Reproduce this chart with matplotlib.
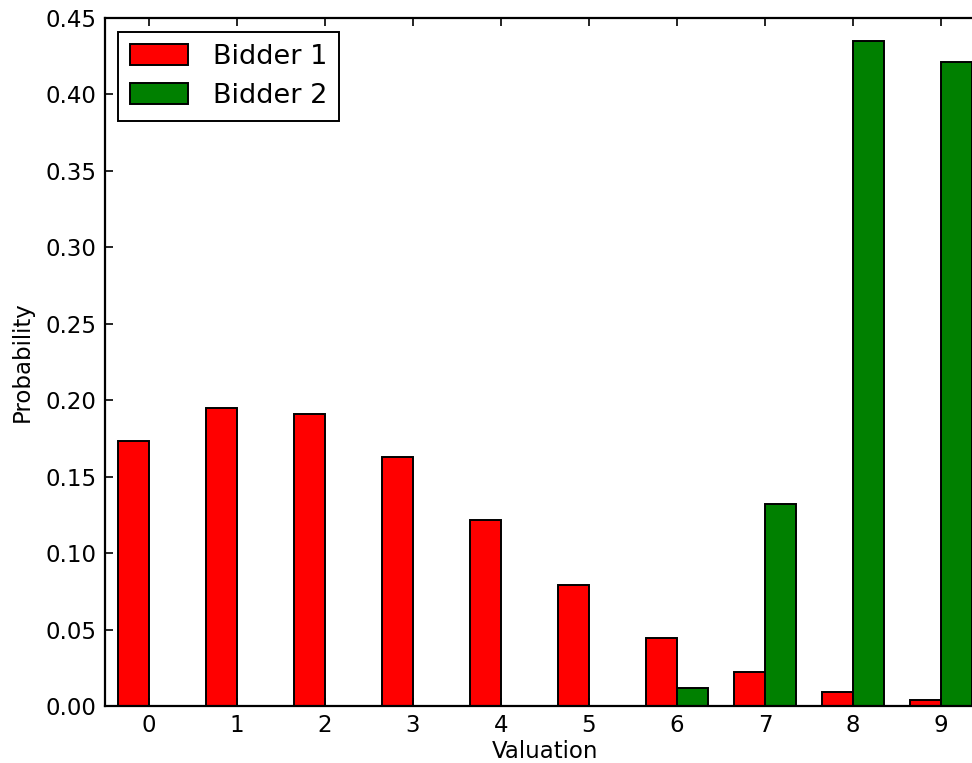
import numpy as np
import matplotlib
matplotlib.use("Agg")
import matplotlib.pyplot as plt

# Probability of each valuation for the two bidders
valuations = [0, 1, 2, 3, 4, 5, 6, 7, 8, 9]
bidder1 = [0.1735, 0.195, 0.191, 0.163, 0.1217, 0.0791, 0.0447, 0.0222, 0.0094, 0.0039]
bidder2 = [0.0, 0.0, 0.0, 0.0, 0.0, 0.0, 0.012, 0.1321, 0.4347, 0.4214]
series_labels = ["Bidder 1", "Bidder 2"]
y_ticks = [0.00, 0.05, 0.10, 0.15, 0.20, 0.25, 0.30, 0.35, 0.40, 0.45]

plt.rcParams["font.family"] = "DejaVu Sans"

W, H = 972, 763
fig = plt.figure(figsize=(W / 100, H / 100), dpi=100)
left_px, top_px, bottom_px = 104.5, 18.0, 706.0
px_per_unit = 88.06
right_px = left_px + 10 * px_per_unit
ax = fig.add_axes([left_px / W, (H - bottom_px) / H,
                   (right_px - left_px) / W, (bottom_px - top_px) / H])

x = np.array(valuations, dtype=float)
width = 0.35
ax.bar(x - width, bidder1, width, align="edge", color="#ff0000",
       edgecolor="black", linewidth=1.4, label=series_labels[0])
ax.bar(x, bidder2, width, align="edge", color="#008000",
       edgecolor="black", linewidth=1.4, label=series_labels[1])

ax.set_xlim(-0.5, 9.5)
ax.set_ylim(0, 0.45)
ax.set_xticks(valuations)
ax.set_yticks(y_ticks)
ax.set_yticklabels([f"{t:.2f}" for t in y_ticks])

ax.tick_params(direction="in", length=5.8, width=1.2, labelsize=16.5,
               top=True, right=True, pad=6)
for s in ax.spines.values():
    s.set_linewidth(1.6)

ax.set_xlabel("Valuation", fontsize=16.5, labelpad=2)
ax.set_ylabel("Probability", fontsize=16.5, labelpad=8)

leg = ax.legend(loc="upper left", fontsize=19.5, fancybox=False,
                framealpha=1, edgecolor="black", borderpad=0.45,
                handlelength=2.15, handleheight=0.8, handletextpad=0.9,
                labelspacing=0.48, borderaxespad=0.5)
leg.get_frame().set_linewidth(1.4)

fig.savefig("out.png", dpi=100)
